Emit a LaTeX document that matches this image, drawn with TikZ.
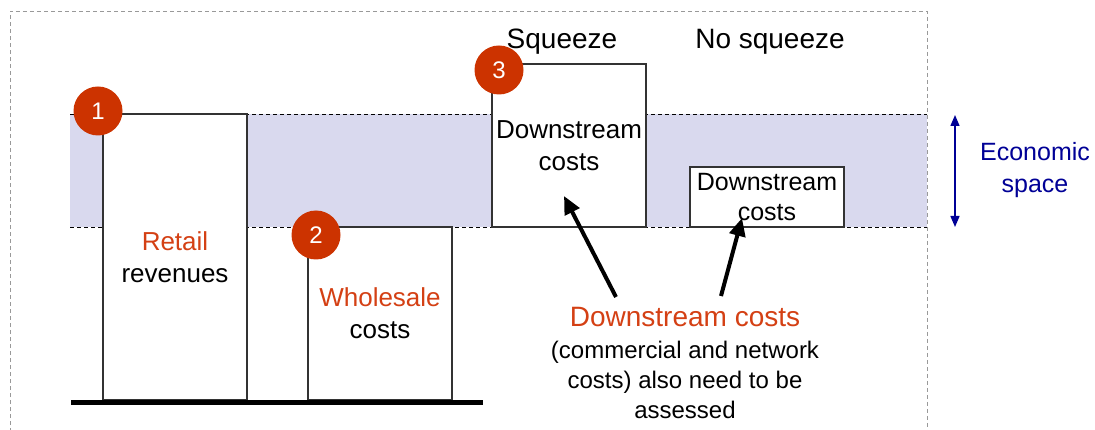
\documentclass[tikz,border=0pt]{standalone}
\usepackage{fontspec}
\setmainfont{Liberation Sans}
\usetikzlibrary{arrows.meta}
\definecolor{bandfill}{RGB}{217,217,238}
\definecolor{circred}{RGB}{204,51,0}
\definecolor{txtred}{RGB}{212,64,20}
\definecolor{navy}{RGB}{0,0,150}
\tikzset{
  barbox/.style={draw=black!80, line width=1.1pt, fill=white, inner sep=0pt, align=center, font=\fontsize{26}{32}\selectfont},
  badge/.style={circle, fill=circred, minimum size=49pt, inner sep=0pt, text=white, font=\fontsize{24}{24}\selectfont},
  bandline/.style={black, line width=0.9pt, dash pattern=on 4pt off 3pt},
  bigarrow/.style={line width=4pt, -{Triangle[length=18pt,width=16pt]}},
  ecoarrow/.style={navy, line width=1.4pt, {Triangle[length=11pt,width=9pt]}-{Triangle[length=11pt,width=9pt]}},
  label/.style={align=center, inner sep=0pt}
}
\begin{document}
\begin{tikzpicture}[x=1pt,y=-1pt]
\useasboundingbox (0,0) rectangle (1095,430);
% outer dashed frame
\draw[black!40, line width=0.8pt, dash pattern=on 4pt off 3pt] (10,432) -- (10,11) -- (927,11) -- (927,432);
% economic band
\fill[bandfill] (70,114) rectangle (927,227);
\draw[bandline] (70,114) -- (927,114);
\draw[bandline] (70,227) -- (927,227);
% boxes
\node[barbox, minimum width=144pt, minimum height=286pt] (retail) at (175,257)
  {\textcolor{txtred}{Retail}\\revenues};
\node[barbox, minimum width=144pt, minimum height=173pt] (wholesale) at (380,313.5)
  {\textcolor{txtred}{Wholesale}\\costs};
\node[barbox, minimum width=154pt, minimum height=163pt] (squeeze) at (569,145.5)
  {Downstream\\costs};
\node[barbox, minimum width=154pt, minimum height=60pt, font=\fontsize{25}{30}\selectfont] (nosq) at (767,197)
  {Downstream\\costs};
% baseline
\draw[line width=5pt] (71,402) -- (483,402);
% badges
\node[badge] (b1) at (98,111) {1};
\node[badge] (b2) at (316,235) {2};
\node[badge] (b3) at (499,70) {3};
% headers
\node[label, font=\fontsize{28}{28}\selectfont] (hsq) at (562,42) {Squeeze};
\node[label, font=\fontsize{28}{28}\selectfont] (hnosq) at (770,42) {No squeeze};
% bottom label
\node[label, text=txtred, font=\fontsize{28}{28}\selectfont] (dslab) at (685,317) {Downstream costs};
\node[label, font=\fontsize{24}{30}\selectfont] (dsnote) at (685,380)
  {(commercial and network\\costs) also need to be\\assessed};
% arrows
\coordinate (a1s) at (616,297);
\coordinate (a1e) at (564,196);
\coordinate (a2s) at (721,296);
\coordinate (a2e) at (742,218);
\draw[bigarrow] (a1s) -- (a1e);
\draw[bigarrow] (a2s) -- (a2e);
% economic space
\coordinate (e1) at (955,115);
\coordinate (e2) at (955,227);
\draw[ecoarrow] (e1) -- (e2);
\node[label, text=navy, font=\fontsize{25}{32}\selectfont] (eco) at (1035,170) {Economic\\space};
\end{tikzpicture}
\end{document}
